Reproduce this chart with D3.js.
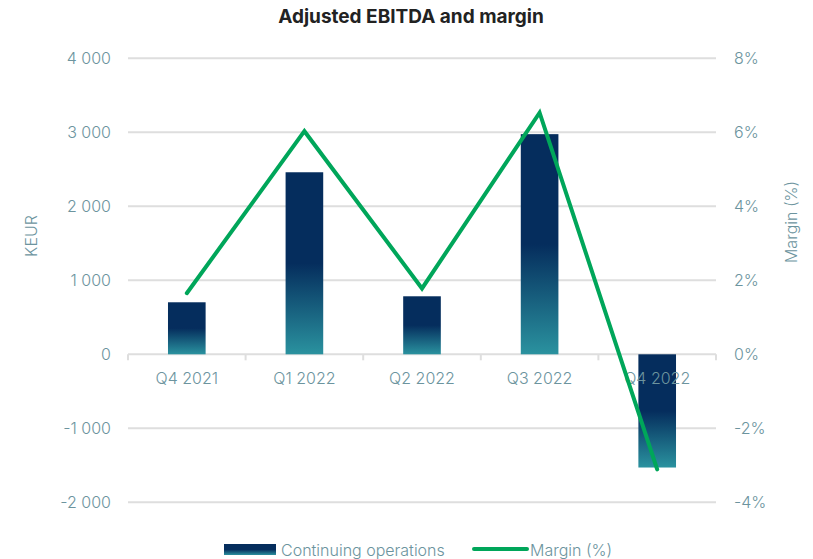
<!DOCTYPE html>
<html>
<head>
<meta charset="utf-8">
<script src="https://cdn.jsdelivr.net/npm/d3@7"></script>
<style>
  body { margin: 0; background: #fff; }
  text { font-family: Inter, "Noto Sans", sans-serif; }
</style>
</head>
<body>
<svg id="chart" width="813" height="559"></svg>
<script>
// DATA
const quarters = ["Q4 2021", "Q1 2022", "Q2 2022", "Q3 2022", "Q4 2022"];
const ebitda = [703, 2460, 784, 2975, -1530];      // KEUR
const margin = [1.65, 6.03, 1.78, 6.53, -3.11];    // %
const leftTicks = [-2000, -1000, 0, 1000, 2000, 3000, 4000];
const rightTicks = [-4, -2, 0, 2, 4, 6, 8];

const labelColor = "#6c949e";
const gridColor = "#dedede";
const darkBlue = "#052d5d";
const teal = "#2a929f";
const green = "#00a65a";

const svg = d3.select("#chart");
const m = { left: 128, right: 716, top: 58.3, bottom: 502.3 };

const x = d3.scaleBand()
  .domain(quarters)
  .range([m.left, m.right])
  .paddingInner(0.68)
  .paddingOuter(0.34);

const xOuter = d3.scaleBand().domain(quarters).range([m.left, m.right]);

const y = d3.scaleLinear().domain([-2000, 4000]).range([m.bottom, m.top]);
const y2 = d3.scaleLinear().domain([-4, 8]).range([m.bottom, m.top]);

// gradient for bars
const defs = svg.append("defs");
const grad = defs.append("linearGradient")
  .attr("id", "barGrad")
  .attr("x1", 0).attr("y1", 0).attr("x2", 0).attr("y2", 1);
grad.append("stop").attr("offset", "0%").attr("stop-color", darkBlue);
grad.append("stop").attr("offset", "50%").attr("stop-color", darkBlue);
grad.append("stop").attr("offset", "100%").attr("stop-color", teal);

// title
svg.append("text")
  .attr("x", 411).attr("y", 23)
  .attr("text-anchor", "middle")
  .attr("font-size", 19).attr("font-weight", 700)
  .attr("fill", "#222")
  .text("Adjusted EBITDA and margin");

// gridlines
svg.append("g").selectAll("line")
  .data(leftTicks.filter(d => d !== 0))
  .join("line")
  .attr("x1", m.left).attr("x2", m.right)
  .attr("y1", d => y(d)).attr("y2", d => y(d))
  .attr("stroke", gridColor).attr("stroke-width", 2);

// left axis
const yAxis = d3.axisLeft(y).tickValues(leftTicks).tickSize(0).tickPadding(17)
  .tickFormat(d => d3.format(",")(d).replace(/,/g, " ").replace("−", "-"));
const yAxisG = svg.append("g").attr("transform", `translate(${m.left},0)`).call(yAxis);
yAxisG.select(".domain").remove();
yAxisG.selectAll("text").attr("font-size", 16).attr("font-weight", 300).attr("fill", labelColor);

// right axis
const y2Axis = d3.axisRight(y2).tickValues(rightTicks).tickSize(0).tickPadding(18)
  .tickFormat(d => String(d) + "%");
const y2AxisG = svg.append("g").attr("transform", `translate(${m.right},0)`).call(y2Axis);
y2AxisG.select(".domain").remove();
y2AxisG.selectAll("text").attr("font-size", 16).attr("font-weight", 300).attr("fill", labelColor);

// axis titles
svg.append("text")
  .attr("transform", "translate(37,236) rotate(-90)")
  .attr("text-anchor", "middle")
  .attr("font-size", 16).attr("font-weight", 300).attr("fill", labelColor)
  .text("KEUR");
svg.append("text")
  .attr("transform", "translate(797,222) rotate(-90)")
  .attr("text-anchor", "middle")
  .attr("font-size", 16).attr("font-weight", 300).attr("fill", labelColor)
  .text("Margin (%)");

// zero line with category ticks
svg.append("line")
  .attr("x1", m.left).attr("x2", m.right)
  .attr("y1", y(0)).attr("y2", y(0))
  .attr("stroke", gridColor).attr("stroke-width", 2);
const boundaries = quarters.map(q => xOuter(q)).concat([m.right]);
svg.append("g").selectAll("line")
  .data(boundaries)
  .join("line")
  .attr("x1", d => d).attr("x2", d => d)
  .attr("y1", y(0)).attr("y2", y(0) + 6)
  .attr("stroke", gridColor).attr("stroke-width", 2);

// bars
svg.append("g").selectAll("rect")
  .data(quarters)
  .join("rect")
  .attr("x", d => x(d))
  .attr("width", x.bandwidth())
  .attr("y", (d, i) => y(Math.max(0, ebitda[i])))
  .attr("height", (d, i) => Math.abs(y(ebitda[i]) - y(0)))
  .attr("fill", "url(#barGrad)");

// x axis labels drawn over the bars
const xAxis = d3.axisBottom(xOuter).tickSize(0).tickPadding(18);
const xAxisG = svg.append("g").attr("transform", `translate(0,${y(0)})`).call(xAxis);
xAxisG.select(".domain").remove();
xAxisG.selectAll("text").attr("font-size", 16).attr("font-weight", 300).attr("fill", labelColor);

// margin line
const line = d3.line()
  .x((d, i) => x(quarters[i]) + x.bandwidth() / 2)
  .y(d => y2(d));
svg.append("path")
  .datum(margin)
  .attr("d", line)
  .attr("fill", "none")
  .attr("stroke", green)
  .attr("stroke-width", 4)
  .attr("stroke-linejoin", "miter")
  .attr("stroke-linecap", "round");

// legend
const legend = svg.append("g");
legend.append("rect")
  .attr("x", 224).attr("y", 544).attr("width", 52).attr("height", 11)
  .attr("fill", "url(#barGrad)");
legend.append("text")
  .attr("x", 281).attr("y", 556)
  .attr("font-size", 16).attr("font-weight", 300).attr("fill", labelColor)
  .text("Continuing operations");
legend.append("line")
  .attr("x1", 474).attr("x2", 527).attr("y1", 549).attr("y2", 549)
  .attr("stroke", green).attr("stroke-width", 4).attr("stroke-linecap", "round");
legend.append("text")
  .attr("x", 530).attr("y", 556)
  .attr("font-size", 16).attr("font-weight", 300).attr("fill", labelColor)
  .text("Margin (%)");
</script>
</body>
</html>
